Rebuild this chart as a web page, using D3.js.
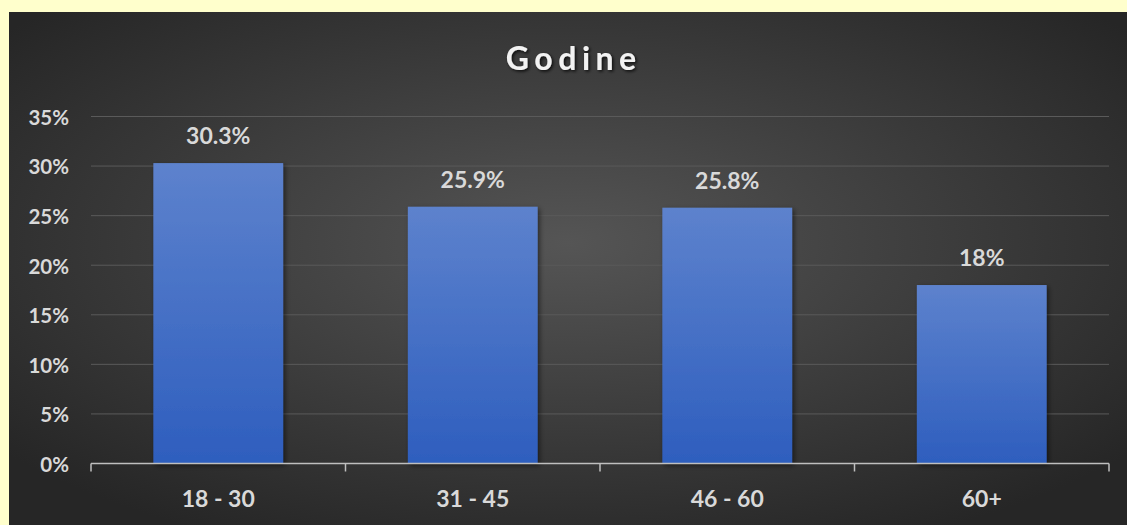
<!DOCTYPE html>
<html>
<head>
<meta charset="utf-8">
<script src="https://cdn.jsdelivr.net/npm/d3@7"></script>
<style>
  html, body { margin: 0; padding: 0; background: #ffffcc; }
  svg { display: block; }
</style>
</head>
<body>
<script>
// chart data
const categories = ["18 - 30", "31 - 45", "46 - 60", "60+"];
const values = [30.3, 25.9, 25.8, 18];
const valueLabels = ["30.3%", "25.9%", "25.8%", "18%"];
const yTicks = [0, 5, 10, 15, 20, 25, 30, 35];
const title = "Godine";

const W = 1127, H = 525;
const panel = { x: 9, y: 12, w: W - 9, h: H - 12 };
const margin = { left: 91, right: 18, top: 116.5, bottom: 61.5 };

const svg = d3.select("body").append("svg")
  .attr("width", W).attr("height", H);

const defs = svg.append("defs");

// background radial gradient
const bg = defs.append("radialGradient").attr("id", "bg")
  .attr("cx", "50%").attr("cy", "45%").attr("r", "65%");
bg.append("stop").attr("offset", "0%").attr("stop-color", "#555555");
bg.append("stop").attr("offset", "100%").attr("stop-color", "#262626");

// bar gradient
const bar = defs.append("linearGradient").attr("id", "bar")
  .attr("x1", 0).attr("y1", 0).attr("x2", 0).attr("y2", 1);
bar.append("stop").attr("offset", "0%").attr("stop-color", "#5d82cd");
bar.append("stop").attr("offset", "100%").attr("stop-color", "#2e5ebe");

const shadow = defs.append("filter").attr("id", "shadow")
  .attr("x", "-10%").attr("y", "-10%").attr("width", "130%").attr("height", "130%");
shadow.append("feDropShadow").attr("dx", 2).attr("dy", 2).attr("stdDeviation", 2.5)
  .attr("flood-color", "#000").attr("flood-opacity", 0.5);

const tshadow = defs.append("filter").attr("id", "tshadow")
  .attr("x", "-10%").attr("y", "-20%").attr("width", "130%").attr("height", "150%");
tshadow.append("feDropShadow").attr("dx", 1.5).attr("dy", 1.5).attr("stdDeviation", 1.5)
  .attr("flood-color", "#000").attr("flood-opacity", 0.8);

svg.append("rect")
  .attr("x", panel.x).attr("y", panel.y)
  .attr("width", panel.w).attr("height", panel.h)
  .attr("fill", "url(#bg)");

const x = d3.scaleBand()
  .domain(categories)
  .range([margin.left, W - margin.right])
  .paddingInner(0.49).paddingOuter(0.245);

const xBoundary = d3.scaleBand()
  .domain(categories)
  .range([margin.left, W - margin.right]);

const y = d3.scaleLinear()
  .domain([0, 35])
  .range([H - margin.bottom, margin.top]);

const font = "Lato, 'Open Sans', sans-serif";
const textColor = "#d9d9d9";

// gridlines
svg.append("g")
  .selectAll("line")
  .data(yTicks.filter(d => d > 0))
  .join("line")
  .attr("x1", margin.left).attr("x2", W - margin.right)
  .attr("y1", d => y(d)).attr("y2", d => y(d))
  .attr("stroke", "#5a5a5a").attr("stroke-width", 1);

// y axis labels
const yAxis = svg.append("g")
  .attr("transform", `translate(${margin.left},0)`)
  .call(d3.axisLeft(y).tickValues(yTicks).tickFormat(d => d + "%").tickSize(0).tickPadding(22));
yAxis.select(".domain").remove();
yAxis.selectAll("text")
  .attr("fill", textColor)
  .attr("dy", "0.38em")
  .attr("font-family", font)
  .attr("font-weight", "bold")
  .attr("font-size", "20.5px");

// bars
svg.append("g")
  .selectAll("rect")
  .data(values)
  .join("rect")
  .attr("x", (d, i) => x(categories[i]))
  .attr("y", d => y(d))
  .attr("width", x.bandwidth())
  .attr("height", d => y(0) - y(d))
  .attr("fill", "url(#bar)")
  .attr("filter", "url(#shadow)");

// x axis
const xAxisG = svg.append("g")
  .attr("transform", `translate(0,${y(0)})`);
xAxisG.append("line")
  .attr("x1", margin.left).attr("x2", W - margin.right)
  .attr("y1", 0).attr("y2", 0)
  .attr("stroke", "#bfbfbf").attr("stroke-width", 1.5);
const bounds = categories.map(c => xBoundary(c)).concat([W - margin.right]);
xAxisG.selectAll("line.tick")
  .data(bounds)
  .join("line")
  .attr("class", "tick")
  .attr("x1", d => d).attr("x2", d => d)
  .attr("y1", 0).attr("y2", 8)
  .attr("stroke", "#bfbfbf").attr("stroke-width", 1.5);
xAxisG.selectAll("text")
  .data(categories)
  .join("text")
  .attr("x", d => x(d) + x.bandwidth() / 2)
  .attr("y", 43.5)
  .attr("text-anchor", "middle")
  .attr("fill", textColor)
  .attr("font-family", font)
  .attr("font-weight", "bold")
  .attr("font-size", "23px")
  .text(d => d);

// value labels
svg.append("g")
  .selectAll("text")
  .data(values)
  .join("text")
  .attr("x", (d, i) => x(categories[i]) + x.bandwidth() / 2)
  .attr("y", d => y(d) - 19)
  .attr("text-anchor", "middle")
  .attr("fill", textColor)
  .attr("font-family", font)
  .attr("font-weight", "bold")
  .attr("font-size", "23px")
  .text((d, i) => valueLabels[i]);

// title (letter-spacing adds trailing space, shift by half of it)
svg.append("text")
  .attr("x", 571 + 2.75).attr("y", 70)
  .attr("text-anchor", "middle")
  .attr("fill", "#f2f2f2")
  .attr("font-family", font)
  .attr("font-weight", "bold")
  .attr("font-size", "32px")
  .attr("letter-spacing", "5.5px")
  .attr("filter", "url(#tshadow)")
  .text(title);
</script>
</body>
</html>
